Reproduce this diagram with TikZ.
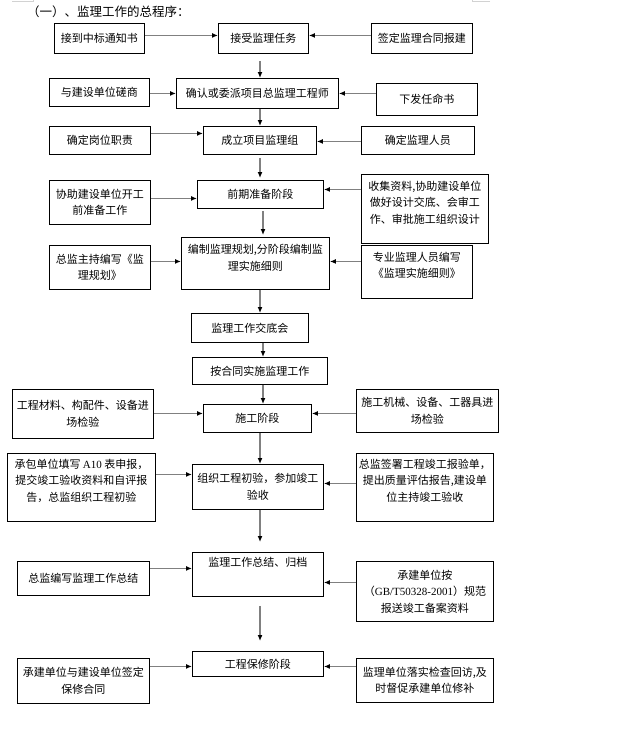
\documentclass[tikz,border=0pt]{standalone}
\usepackage{fontspec}
\setmainfont{Noto Sans CJK SC}
\newfontfamily\tnr{Liberation Serif}
\usetikzlibrary{arrows.meta}

\tikzset{
	box/.style={draw=black, line width=0.9pt, anchor=north west, align=center, inner sep=2pt,
		font=\fontsize{11}{16.5}\selectfont},
	arr/.style={draw=gray, line width=1.3pt, -{Latex[length=6pt,width=5pt,color=black]}},
}

\begin{document}
\begin{tikzpicture}[x=1pt,y=-1pt]
	\useasboundingbox (0,0) rectangle (623,734);
	% page marks
		\draw [gray!35, line width=0.8pt] (12,1.5) -- (33,1.5) -- (33,0);
		\draw [gray!35, line width=0.8pt] (490,1.5) -- (472,1.5) -- (472,0);
		\node [anchor=west, inner sep=0pt, font=\fontsize{12.5}{14}\selectfont] (title) at (27,12) {（一）、监理工作的总程序：};
		\coordinate (spine) at (260,0);
		\coordinate (spinetwo) at (263,0);

	% main line
		\node [box, minimum width=90,  minimum height=30] (jieshou)  at (218,23)  {接受监理任务};
		\node [box, minimum width=162, minimum height=30] (queren)   at (176,78)  {确认或委派项目总监理工程师};
		\node [box, minimum width=113, minimum height=28] (chengli)  at (203,126) {成立项目监理组};
		\node [box, minimum width=126, minimum height=28] (qianqi)   at (197,180) {前期准备阶段};
		\node [box, minimum width=148, minimum height=52, text depth=12.5pt] (bianzhi) at (181,237) {编制监理规划,分阶段编制监\\理实施细则};
		\node [box, minimum width=117, minimum height=29] (jiaodi)   at (191,313) {监理工作交底会};
		\node [box, minimum width=135, minimum height=27] (anhetong) at (192,357) {按合同实施监理工作};
		\node [box, minimum width=108, minimum height=28] (shigong)  at (203,404) {施工阶段};
		\node [box, minimum width=131, minimum height=45] (chuyan)   at (192,464) {组织工程初验，参加竣工\\验收};
		\node [box, minimum width=131, minimum height=44, text depth=24.5pt] (zongjie) at (192,552) {监理工作总结、归档};
		\node [box, minimum width=131, minimum height=25] (baoxiu)   at (192,651) {工程保修阶段};

	% left side
		\node [box, minimum width=90,  minimum height=30] (zhongbiao) at (54,23)  {接到中标通知书};
		\node [box, minimum width=100, minimum height=28] (cuoshang)  at (49,78)  {与建设单位磋商};
		\node [box, minimum width=101, minimum height=28] (gangwei)   at (49,126) {确定岗位职责};
		\node [box, minimum width=101, minimum height=44] (xiezhu)    at (49,180) {协助建设单位开工\\前准备工作};
		\node [box, minimum width=101, minimum height=44] (guihua)    at (49,245) {总监主持编写《监\\理规划》};
		\node [box, minimum width=141, minimum height=49] (cailiao)   at (12,389) {工程材料、构配件、设备进\\场检验};
		\node [box, minimum width=148, minimum height=68, text depth=14.5pt] (chengbao) at (7,453) {承包单位填写 {\tnr A10} 表申报，\\提交竣工验收资料和自评报\\告，总监组织工程初验};
		\node [box, minimum width=132, minimum height=34] (zjbianxie) at (17,561) {总监编写监理工作总结};
		\node [box, minimum width=132, minimum height=45] (baoxiuht)  at (17,658) {承建单位与建设单位签定\\保修合同};

	% right side
		\node [box, minimum width=101, minimum height=30] (qianding) at (371,23)  {签定监理合同报建};
		\node [box, minimum width=101, minimum height=32] (renming)  at (376,83)  {下发任命书};
		\node [box, minimum width=113, minimum height=28] (renyuan)  at (361,126) {确定监理人员};
		\node [box, minimum width=127, minimum height=69, text depth=13.5pt] (shouji) at (361,174) {收集资料,协助建设单位\\做好设计交底、会审工\\作、审批施工组织设计};
		\node [box, minimum width=111, minimum height=53, text depth=14.5pt] (xize) at (361,245) {专业监理人员编写\\《监理实施细则》};
		\node [box, minimum width=142, minimum height=43] (jixie)    at (356,389) {施工机械、设备、工器具进\\场检验};
		\node [box, minimum width=137, minimum height=68, text depth=14.5pt] (qianshu) at (356,453) {总监签署工程竣工报验单，\\提出质量评估报告,建设单\\位主持竣工验收};
		\node [box, minimum width=137, minimum height=60] (beian)    at (356,561) {承建单位按\\（{\tnr GB/T50328-2001}）规范\\报送竣工备案资料};
		\node [box, minimum width=137, minimum height=44] (huifang)  at (356,658) {监理单位落实检查回访,及\\时督促承建单位修补};

	% downward arrows
		\draw [arr, shorten <=7pt]  (jieshou.south -| spine)     -- (queren.north -| spine);
		\draw [arr]                 (queren.south -| spine)      -- (chengli.north -| spine);
		\draw [arr, shorten <=3pt, shorten >=2pt] (chengli.south -| spine) -- (qianqi.north -| spine);
		\draw [arr, shorten <=2pt, shorten >=2pt] (qianqi.south -| spinetwo) -- (bianzhi.north -| spinetwo);
		\draw [arr]                 (bianzhi.south -| spine)     -- (jiaodi.north -| spine);
		\draw [arr]                 (jiaodi.south -| spinetwo)   -- (anhetong.north -| spinetwo);
		\draw [arr]                 (anhetong.south -| spinetwo) -- (shigong.north -| spinetwo);
		\draw [arr]                 (shigong.south -| spine)     -- (chuyan.north -| spine);
		\draw [arr, shorten >=10pt] (chuyan.south -| spine)      -- (zongjie.north -| spine);
		\draw [arr, shorten <=9pt, shorten >=10pt] (zongjie.south -| spine) -- (baoxiu.north -| spine);

	% side arrows
		\draw [arr] ([yshift=3pt]zhongbiao.east)  -- ([yshift=3pt]zhongbiao.east -| jieshou.west);
		\draw [arr] ([yshift=3pt]qianding.west)   -- ([yshift=3pt]qianding.west -| jieshou.east);
		\draw [arr] ([yshift=-1pt]cuoshang.east)  -- ([yshift=-1pt]cuoshang.east -| queren.west);
		\draw [arr] ([yshift=6pt]renming.west)    -- ([yshift=6pt]renming.west -| queren.east);
		\draw [arr] ([yshift=7pt]gangwei.east)    -- ([yshift=7pt]gangwei.east -| chengli.west);
		\draw [arr] ([yshift=-1pt]renyuan.west)   -- ([yshift=-1pt]renyuan.west -| chengli.east);
		\draw [arr] ([yshift=4pt]xiezhu.east)     -- ([yshift=4pt]xiezhu.east -| qianqi.west);
		\draw [arr] ([yshift=19.5pt]shouji.west)  -- ([yshift=19.5pt]shouji.west -| qianqi.east);
		\draw [arr] ([yshift=6pt]guihua.east)     -- ([yshift=6pt]guihua.east -| bianzhi.west);
		\draw [arr] ([yshift=10.5pt]xize.west)    -- ([yshift=10.5pt]xize.west -| bianzhi.east);
		\draw [arr] ([yshift=0.5pt]cailiao.east)  -- ([yshift=0.5pt]cailiao.east -| shigong.west);
		\draw [arr] ([yshift=-2.5pt]jixie.west)   -- ([yshift=-2.5pt]jixie.west -| shigong.east);
		\draw [arr] ([yshift=13pt]chengbao.east)  -- ([yshift=13pt]chengbao.east -| chuyan.west);
		\draw [arr] ([yshift=4pt]qianshu.west)    -- ([yshift=4pt]qianshu.west -| chuyan.east);
		\draw [arr] ([yshift=10pt]zjbianxie.east) -- ([yshift=10pt]zjbianxie.east -| zongjie.west);
		\draw [arr] ([yshift=9pt]beian.west)      -- ([yshift=9pt]beian.west -| zongjie.east);
		\draw [arr] ([yshift=14.5pt]baoxiuht.east) -- ([yshift=14.5pt]baoxiuht.east -| baoxiu.west);
		\draw [arr] ([yshift=14pt]huifang.west)   -- ([yshift=14pt]huifang.west -| baoxiu.east);
\end{tikzpicture}
\end{document}
